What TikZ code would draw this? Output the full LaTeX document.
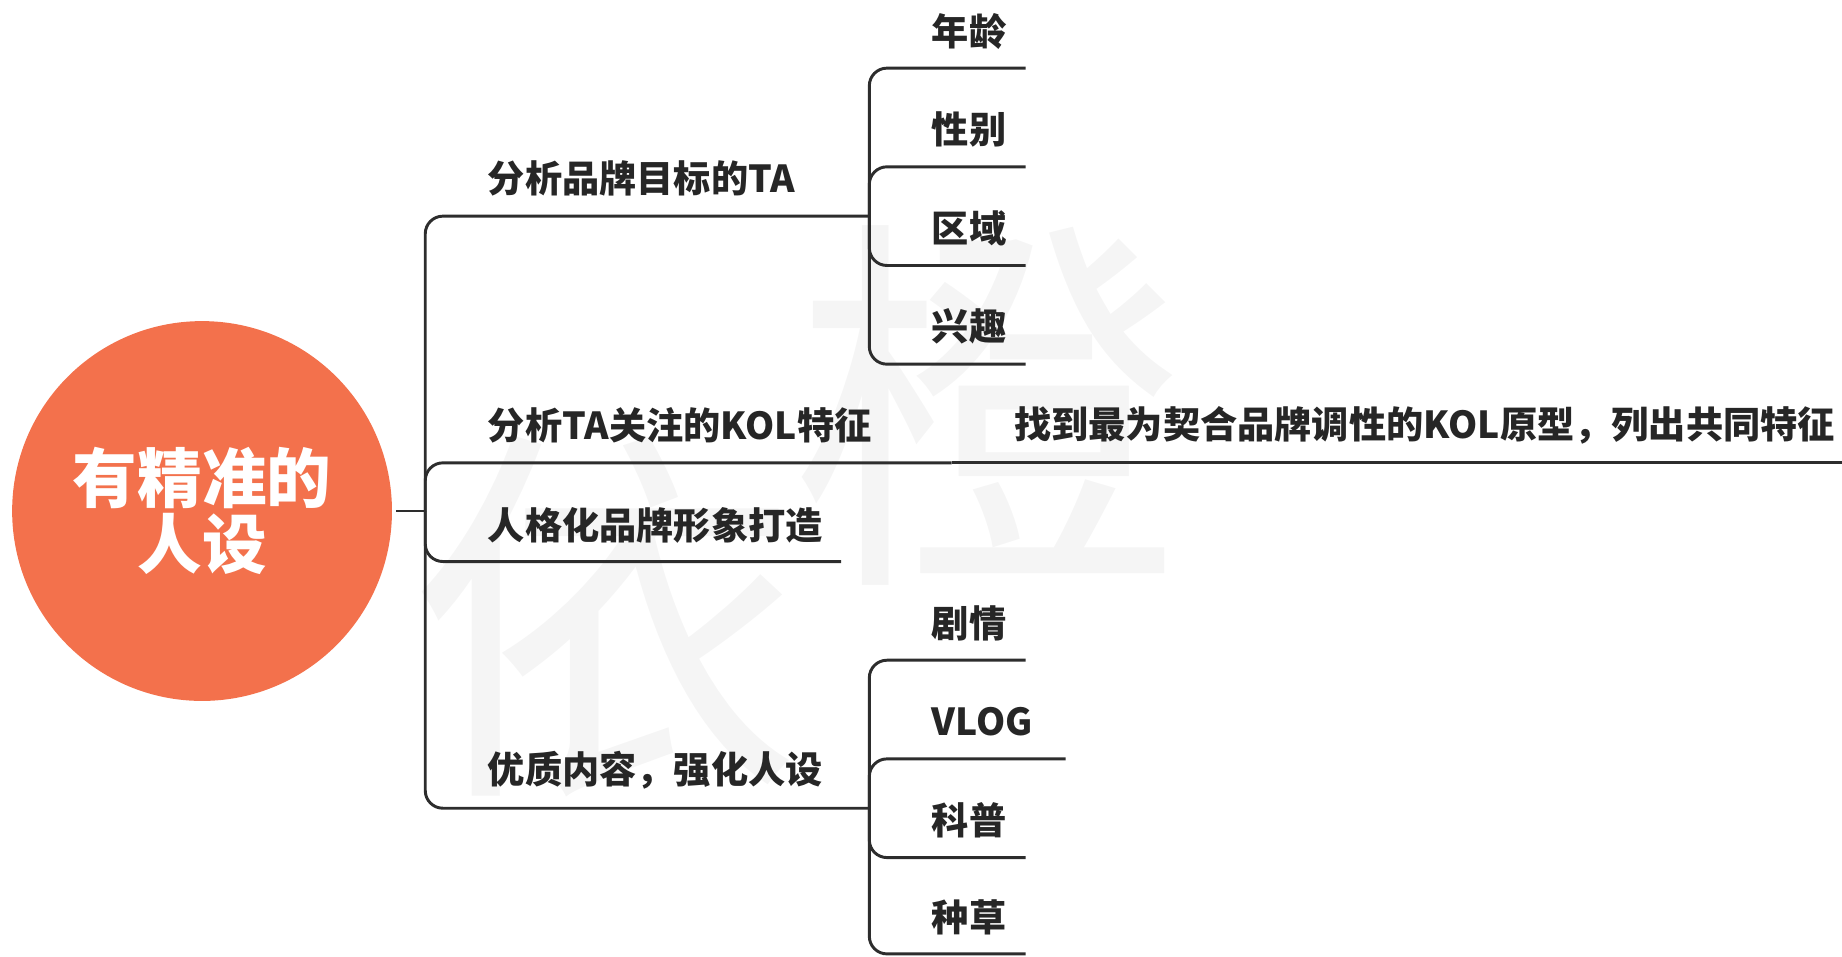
\documentclass[tikz,border=0pt]{standalone}
\usepackage{fontspec}
\setmainfont{Noto Sans CJK SC}
\definecolor{rootorange}{RGB}{243,113,76}
\definecolor{linegray}{RGB}{45,45,45}

\begin{document}
\begin{tikzpicture}[x=0.6pt,y=-0.6pt,
    link/.style={draw=linegray, line width=1.5pt, rounded corners=9pt},
    topic/.style={anchor=west, inner sep=0pt, text=black!85,
      font=\fontsize{19}{19}\selectfont\bfseries},
    rootnode/.style={circle, fill=rootorange, minimum size=194pt, inner sep=0pt,
      text=white, align=center, font=\fontsize{33}{34}\selectfont\bfseries},
    watermark/.style={text=black!4, font=\fontsize{200}{200}\selectfont}]
  \useasboundingbox (0,0) rectangle (1568,813.8);
  % watermark
  \node[watermark] (wm1) at (515,525) {依};
  \node[watermark] (wm2) at (840,345) {橙};

  \node[rootnode] (root) at (172,435) {有精准的\\人设};
  \coordinate (j0) at (362,435);

  % first level
  \node[topic] (ta) at (415,152) {分析品牌目标的TA};
  \coordinate (ta-end) at (740,184);
  \node[topic] (kol) at (415,362) {分析TA关注的KOL特征};
  \coordinate (kol-end) at (810,394);
  \node[topic] (brand) at (415,447) {人格化品牌形象打造};
  \coordinate (brand-end) at (716,478);
  \node[topic] (content) at (415,656) {优质内容，强化人设};
  \coordinate (content-end) at (740,688);

  \draw[link, shorten <=2pt] (root.east) -- (j0);
  \draw[link] (j0) |- (ta-end);
  \draw[link] (j0) |- (kol-end);
  \draw[link] (j0) |- (brand-end);
  \draw[link] (j0) |- (content-end);

  % target audience
  \node[topic] (age) at (793,27) {年龄};
  \node[topic] (gender) at (793,110) {性别};
  \node[topic] (region) at (793,194) {区域};
  \node[topic] (hobby) at (793,278) {兴趣};
  \coordinate (age-end) at (873,58);
  \coordinate (gender-end) at (873,142);
  \coordinate (region-end) at (873,226);
  \coordinate (hobby-end) at (873,310);
  \draw[link] (ta-end) |- (age-end);
  \draw[link] (ta-end) |- (gender-end);
  \draw[link] (ta-end) |- (region-end);
  \draw[link] (ta-end) |- (hobby-end);

  % kol prototype
  \node[topic] (proto) at (863,362) {找到最为契合品牌调性的KOL原型，列出共同特征};
  \coordinate (proto-end) at (1568,394);
  \draw[link] (kol-end) -- (proto-end);

  % content types
  \node[topic] (plot) at (793,531) {剧情};
  \node[topic] (vlog) at (793,614) {VLOG};
  \node[topic] (science) at (793,698) {科普};
  \node[topic] (grass) at (793,781) {种草};
  \coordinate (plot-end) at (873,562);
  \coordinate (vlog-end) at (907,646);
  \coordinate (science-end) at (873,730);
  \coordinate (grass-end) at (873,812);
  \draw[link] (content-end) |- (plot-end);
  \draw[link] (content-end) |- (vlog-end);
  \draw[link] (content-end) |- (science-end);
  \draw[link] (content-end) |- (grass-end);
\end{tikzpicture}
\end{document}
